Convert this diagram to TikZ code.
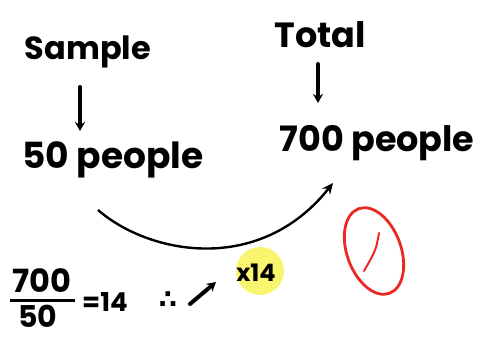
\documentclass[tikz,border=0pt]{standalone}
\usepackage{fontspec}
\setmainfont{Poppins}
\newfontfamily\symfont{DejaVu Sans}
\usetikzlibrary{arrows.meta}
\definecolor{hlyellow}{RGB}{250,245,110}
\definecolor{penred}{RGB}{235,40,35}
\tikzset{
  hand/.style={font=\fontsize{#1}{#1}\selectfont\bfseries, inner sep=0pt, text=black},
  pen/.style={line width=4pt, line cap=round, -{Stealth[length=9pt,width=10pt]}},
}
\begin{document}
\begin{tikzpicture}[x=1pt,y=-1pt]
\useasboundingbox (0,0) rectangle (482,338);
\node[hand=32] (sample) at (88,52) {Sample};
\node[hand=36] (fifty) at (113,160) {50 people};
\node[hand=35] (total) at (320,35) {Total};
\node[hand=35] (seven) at (377,143) {700 people};
\coordinate (s1) at (80,87);
\coordinate (s2) at (80,131);
\coordinate (t1) at (318,64);
\coordinate (t2) at (318,103);
\draw[pen] (s1) -- (s2);
\draw[pen] (t1) -- (t2);
\coordinate (cstart) at (98,210);
\coordinate (cend) at (333,183);
\draw[line width=2.4pt, -{Stealth[length=11pt,width=10pt]}] (cstart) .. controls (150,255) and (260,275) .. (cend);
% working
\node[hand=32] (num) at (42,281) {700};
\node[hand=30] (den) at (38,316) {50};
\draw[line width=3pt] (10,300) -- (75,300);
\node[hand=26,anchor=west] (eq) at (82,302) {=14};
\node[inner sep=0pt, font=\symfont\fontsize{26}{26}\selectfont\bfseries] (there) at (168,300) {∴};
\coordinate (a1) at (190,304);
\coordinate (a2) at (216,282);
\draw[pen] (a1) -- (a2);
\fill[hlyellow] (260,271) circle (24);
\node[hand=24] (x14) at (256,273) {x14};
% red zero
\draw[penred, line width=2.8pt, rotate around={20:(374,251)}] (374,251) ellipse (27 and 45);
\draw[penred, line width=2pt, line cap=round] (379,233) .. controls (376,250) .. (364,271);
\end{tikzpicture}
\end{document}
